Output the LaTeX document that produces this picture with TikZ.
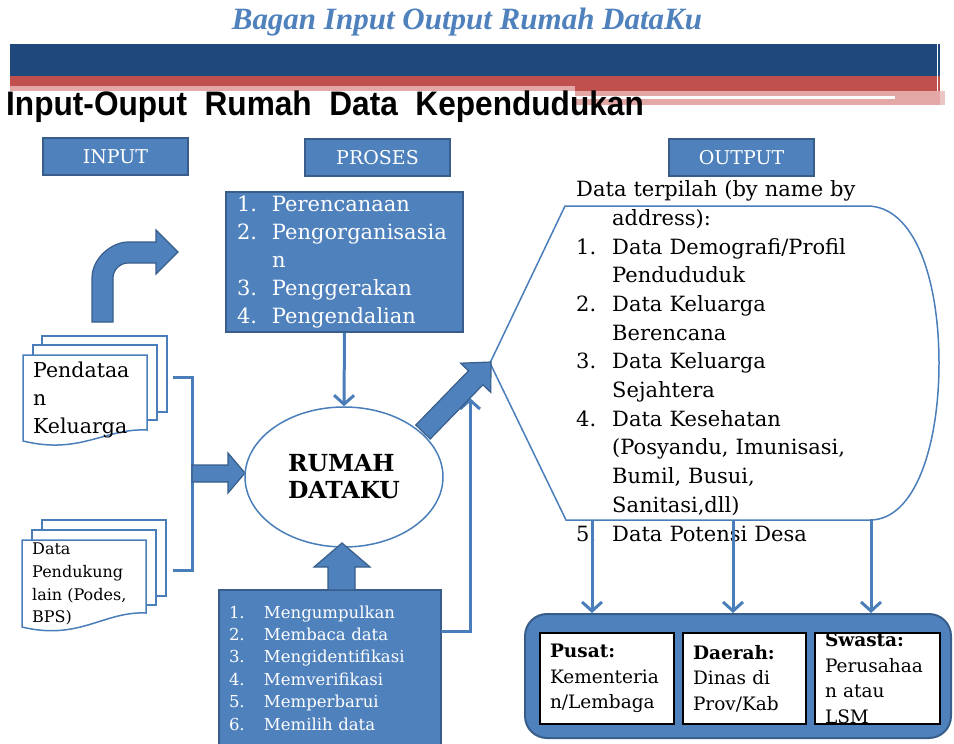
\documentclass[tikz,border=0pt]{standalone}
\usepackage{fontspec}
\setmainfont{DejaVu Serif}
\newfontfamily\headfont{Liberation Sans}
\newfontfamily\titlefont{Liberation Serif}
\usetikzlibrary{shapes,arrows.meta,positioning}

\definecolor{boxblue}{HTML}{4F81BD}
\definecolor{boxedge}{HTML}{385D8A}
\definecolor{lineblue}{HTML}{4A7EBB}
\definecolor{bandblue}{HTML}{1F497D}
\definecolor{bandred}{HTML}{C0504D}
\definecolor{bandpink}{HTML}{E3A7A6}

\hyphenpenalty=10000
\newcommand{\lnum}[2][35pt]{\makebox[#1][l]{#2}}

\begin{document}
\begin{tikzpicture}[x=1pt,y=-1pt,
  hdrbox/.style={draw=boxedge,line width=1.5pt,fill=boxblue,text=white,minimum width=145,minimum height=37,inner sep=0pt,font=\fontsize{19}{22}\selectfont},
  listbox/.style={draw=boxedge,line width=1.5pt,fill=boxblue,text=white,inner sep=0pt,align=left},
  blockarrow/.style={draw=boxedge,line width=1.2pt,fill=boxblue},
  flow/.style={draw=lineblue,line width=3pt,-{Straight Barb[length=9pt,width=20pt]}},
  thinline/.style={draw=lineblue,line width=1.5pt},
  sheet/.style={thinline,fill=white},
  doctext/.style={anchor=north west,inner sep=0pt,align=left},
  outbox/.style={draw=black,line width=2pt,fill=white,minimum height=91,inner sep=0pt,outer sep=0pt,align=left,font=\fontsize{18.5}{25.5}\selectfont}]
  \useasboundingbox (0,0) rectangle (954,744);

  % bands
  \fill[bandblue] (10,44) rectangle (940,76);
  \fill[bandred] (10,76) rectangle (940,86);
  \fill[bandred] (575,86) rectangle (940,91);
  \fill[bandpink] (10,86) rectangle (575,91);
  \fill[bandpink] (575,91) rectangle (945,105);
  \fill[white] (575,96) rectangle (895,99);
  \fill[white,opacity=.35] (940,44) rectangle (952,108);
  \draw[white,line width=.8pt] (937.5,44) -- (937.5,91) (948.5,44) -- (948.5,108);

  \node[text=boxblue,font=\titlefont\bfseries\itshape\fontsize{31}{34}\selectfont] (title) at (467,22) {Bagan Input Output Rumah DataKu};
  \node[anchor=west,inner sep=0pt] (heading) at (6,107) {\scalebox{0.93}[1]{\headfont\bfseries\fontsize{34}{38}\selectfont Input-Ouput~~Rumah~~Data~~Kependudukan}};

  \node[hdrbox] (inhdr) at (115.5,156.5) {INPUT};
  \node[hdrbox] (proshdr) at (377.5,157.5) {PROSES};
  \node[hdrbox] (outhdr) at (741.5,157.5) {OUTPUT};

  % bent arrow
  \draw[blockarrow] (92,322) -- (92,278) .. controls (92,258) and (112,242) .. (128,242) -- (156,242) -- (156,230) -- (178,252) -- (156,274) -- (156,263) -- (128,263) .. controls (120,263) and (113,270) .. (113,278) -- (113,322) -- cycle;

  % document stacks
  \draw[sheet] (42,336) rectangle (167,412);
  \draw[sheet] (33,345) rectangle (157,420);
  \draw[sheet] (23,355) -- (147,355) -- (147,430) .. controls (105,428) and (80,455) .. (23,441) -- cycle;
  \node[doctext,font=\fontsize{20.5}{28}\selectfont] (doc1) at (33,362) {Pendataa\\n\\Keluarga};

  \draw[sheet] (42,520) rectangle (166,596);
  \draw[sheet] (32,530) rectangle (156,605);
  \draw[sheet] (22,540) -- (146,540) -- (146,613) .. controls (104,611) and (79,641) .. (22,627) -- cycle;
  \node[doctext,font=\fontsize{16}{22.7}\selectfont] (doc2) at (32,543) {Data\\Pendukung\\lain (Podes,\\BPS)};

  \coordinate (brtop) at (173,377);
  \coordinate (brbot) at (173,570);
  \draw[lineblue,line width=3pt] (brtop) -- ++(19,0) |- (brbot);
  \draw[blockarrow] (192,465) -- (228,465) -- (228,453) -- (245,473) -- (228,493) -- (228,482) -- (192,482) -- cycle;

  \node[ellipse,draw=lineblue,line width=1.5pt,fill=white,minimum width=198,minimum height=140,inner sep=0pt,align=left,font=\bfseries\fontsize{23.5}{27}\selectfont] (rumah) at (344,477) {RUMAH\\DATAKU};

  \node[listbox,minimum width=237,minimum height=140,text width=215,font=\fontsize{21}{28}\selectfont] (proseslist) at (344.5,262)
    {\lnum{1.}Perencanaan\\ \lnum{2.}Pengorganisasia\\ \hspace*{35pt}n\\ \lnum{3.}Penggerakan\\ \lnum{4.}Pengendalian};
  \draw[flow] (proseslist.south) -- (rumah.north);

  \node[listbox,minimum width=222,minimum height=156,text width=202,font=\fontsize{16.5}{22.4}\selectfont] (kegiatan) at (330,668)
    {\lnum{1.}Mengumpulkan\\ \lnum{2.}Membaca data\\ \lnum{3.}Mengidentifikasi\\ \lnum{4.}Memverifikasi\\ \lnum{5.}Memperbarui\\ \lnum{6.}Memilih data};
  \draw[blockarrow] (328,590) -- (328,567) -- (314,567) -- (342,543) -- (370,567) -- (355,567) -- (355,590) -- cycle;

  \coordinate (kegout) at (441,631);
  \coordinate (upend) at (470,398);
  \draw[flow] (kegout) -| (upend);

  % output callout
  \draw[thinline,fill=white] (490,363) -- (565,206) -- (867,206) .. controls (915,206) and (939,280) .. (939,363) .. controls (939,446) and (915,520) .. (870,520) -- (566,520) -- cycle;
  \draw[blockarrow] (430.2,439) -- (482.9,384.8) -- (490.8,392.4) -- (491,362) -- (460.6,363.2) -- (468.5,370.8) -- (415.8,425) -- cycle;

  \node[doctext,text width=340,font=\fontsize{21}{28.7}\selectfont] (outlist) at (576,180.5)
    {Data terpilah (by name by\\ \hspace*{36pt}address):\\
     \lnum[36pt]{1.}Data Demografi/Profil\\ \hspace*{36pt}Pendududuk\\
     \lnum[36pt]{2.}Data Keluarga\\ \hspace*{36pt}Berencana\\
     \lnum[36pt]{3.}Data Keluarga\\ \hspace*{36pt}Sejahtera\\
     \lnum[36pt]{4.}Data Kesehatan\\ \hspace*{36pt}(Posyandu, Imunisasi,\\ \hspace*{36pt}Bumil, Busui,\\ \hspace*{36pt}Sanitasi,dll)\\
     \lnum[36pt]{5.}Data Potensi Desa};

  % users of the data
  \node[draw=boxedge,line width=2pt,fill=boxblue,rounded corners=22pt,minimum width=426,minimum height=124] (panel) at (738,676) {};
  \foreach \x in {592,733,871}
    \draw[flow] (\x,520) -- (\x,0 |- panel.north);

  \node[outbox,minimum width=134,text width=114] (pusat) at (607,678.5) {\textbf{Pusat:}\\Kementeria\\n/Lembaga};
  \node[outbox,minimum width=123,text width=103,right=9pt of pusat] (daerah) {\textbf{Daerah:}\\Dinas di\\Prov/Kab};
  \node[outbox,minimum width=125,right=9pt of daerah] (swasta) {};
  \begin{scope}
    \clip (swasta.north west) rectangle (swasta.south east);
    \node[inner sep=0pt,text width=105,align=left,font=\fontsize{18.5}{25.5}\selectfont] (swastatext) at (swasta) {\textbf{Swasta:}\\Perusahaa\\n atau\\LSM};
  \end{scope}
  \draw[black,line width=2pt] (swasta.north west) rectangle (swasta.south east);
\end{tikzpicture}
\end{document}
